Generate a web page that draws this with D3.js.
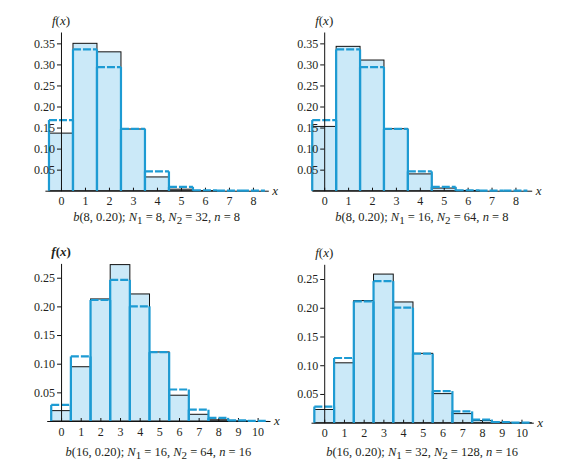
<!DOCTYPE html>
<html lang="en">
<head>
  <meta charset="UTF-8" />
  <title>Hypergeometric vs binomial</title>
  <script src="https://d3js.org/d3.v7.min.js"></script>
  <style>
    body { margin: 0; padding: 0; background: #fff; }
  </style>
</head>
<body>
  <div id="chart"></div>
  <script>
    // hypergeometric and binomial probabilities, x = 0, 1, 2, ...
    const hyper1 = [0.1368, 0.3501, 0.3299, 0.1466, 0.0327, 0.0036, 0.0002, 0.0000, 0.0000];
    const binom1 = [0.1678, 0.3355, 0.2936, 0.1468, 0.0459, 0.0092, 0.0011, 0.0001, 0.0000];
    const hyper2 = [0.1527, 0.3429, 0.3104, 0.1473, 0.0399, 0.0063, 0.0006, 0.0000, 0.0000];
    const binom2 = [0.1678, 0.3355, 0.2936, 0.1468, 0.0459, 0.0092, 0.0011, 0.0001, 0.0000];
    const hyper3 = [0.0181, 0.0947, 0.2130, 0.2729, 0.2217, 0.1205, 0.0450, 0.0117, 0.0021, 0.0003, 0.0000];
    const binom3 = [0.0281, 0.1126, 0.2111, 0.2463, 0.2001, 0.1201, 0.0550, 0.0197, 0.0055, 0.0012, 0.0002];
    const hyper4 = [0.0230, 0.1042, 0.2125, 0.2586, 0.2101, 0.1207, 0.0506, 0.0158, 0.0037, 0.0007, 0.0001];
    const binom4 = [0.0281, 0.1126, 0.2111, 0.2463, 0.2001, 0.1201, 0.0550, 0.0197, 0.0055, 0.0012, 0.0002];

    // caption parameters: b(n, p); N1, N2, n
    const capB  = ["8", "8", "16", "16"];
    const capP  = ["0.20", "0.20", "0.20", "0.20"];
    const capN1 = ["8", "16", "16", "32"];
    const capN2 = ["32", "64", "64", "128"];
    const capn  = ["8", "8", "16", "16"];

    const xTicksSmall = [0, 1, 2, 3, 4, 5, 6, 7, 8];
    const xTicksLarge = [0, 1, 2, 3, 4, 5, 6, 7, 8, 9, 10];
    const yTicksSmall = [0.05, 0.10, 0.15, 0.20, 0.25, 0.30, 0.35];
    const yTicksLarge = [0.05, 0.10, 0.15, 0.20, 0.25];

    const hyperSets = [hyper1, hyper2, hyper3, hyper4];
    const binomSets = [binom1, binom2, binom3, binom4];

    // panel geometry (pixels)
    const layout = [
      { xDom: [-0.67, 8.64], xRange: [44.9, 268.3], yMax: 0.377, base: 190.7, top: 32, xTicks: xTicksSmall, yTicks: yTicksSmall, capY: 221, fxY: 25, fxBold: false },
      { xDom: [-0.51, 8.68], xRange: [312, 531.7], yMax: 0.377, base: 190.7, top: 32, xTicks: xTicksSmall, yTicks: yTicksSmall, capY: 221, fxY: 25, fxBold: false },
      { xDom: [-0.73, 10.63], xRange: [46.7, 270], yMax: 0.275, base: 421, top: 263.4, xTicks: xTicksLarge, yTicks: yTicksLarge, capY: 456, fxY: 256, fxBold: true },
      { xDom: [-0.67, 10.6], xRange: [311, 533.3], yMax: 0.2756, base: 422.7, top: 264.3, xTicks: xTicksLarge, yTicks: yTicksLarge, capY: 456, fxY: 257, fxBold: false }
    ];

    const serif = "'Liberation Serif', 'Times New Roman', Times, serif";
    const ink = "#231f20";
    const blue = "#1d9bd3";
    const lightBlue = "#cbe9f8";

    const svg = d3.select("#chart").append("svg")
      .attr("width", 565)
      .attr("height", 470)
      .attr("font-family", serif);

    svg.append("rect").attr("width", 565).attr("height", 470).attr("fill", "#fff");

    layout.forEach((L, i) => {
      const hyper = hyperSets[i];
      const binom = binomSets[i];
      const g = svg.append("g");

      const x = d3.scaleLinear().domain(L.xDom).range(L.xRange);
      const y = d3.scaleLinear().domain([0, L.yMax]).range([L.base, L.top]);

      // hypergeometric bars: light fill, thin black outline
      g.selectAll("rect.hyper")
        .data(hyper)
        .enter().append("rect")
        .attr("class", "hyper")
        .attr("x", (d, k) => x(k - 0.5))
        .attr("width", (d, k) => x(k + 0.5) - x(k - 0.5))
        .attr("y", d => y(d))
        .attr("height", d => y(0) - y(d))
        .attr("fill", lightBlue)
        .attr("stroke", "#111")
        .attr("stroke-width", 1);

      // x axis
      const xAxis = d3.axisBottom(x)
        .tickValues(L.xTicks)
        .tickFormat(d3.format("d"))
        .tickSizeInner(-3)
        .tickSizeOuter(0)
        .tickPadding(6);
      const gx = g.append("g")
        .attr("transform", `translate(0,${L.base})`)
        .call(xAxis)
        .attr("font-family", serif)
        .attr("font-size", 12);
      gx.select(".domain").attr("stroke", "#111").attr("stroke-width", 1);
      gx.selectAll(".tick line").attr("stroke", "#111");
      gx.selectAll(".tick text").attr("fill", ink);

      // binomial outline: solid sides, dashed tops
      g.selectAll("line.side")
        .data(binom.flatMap((d, k) => [{ e: k - 0.5, v: d }, { e: k + 0.5, v: d }]))
        .enter().append("line")
        .attr("class", "side")
        .attr("x1", d => x(d.e)).attr("x2", d => x(d.e))
        .attr("y1", y(0)).attr("y2", d => y(d.v))
        .attr("stroke", blue)
        .attr("stroke-width", 2.2);

      g.selectAll("line.top")
        .data(binom)
        .enter().append("line")
        .attr("class", "top")
        .attr("x1", (d, k) => x(k - 0.5)).attr("x2", (d, k) => x(k + 0.5))
        .attr("y1", d => y(d)).attr("y2", d => y(d))
        .attr("stroke", blue)
        .attr("stroke-width", 2.2)
        .attr("stroke-dasharray", "8,2");

      // y axis on top of bars
      const yAxis = d3.axisLeft(y)
        .tickValues(L.yTicks)
        .tickFormat(d3.format(".2f"))
        .tickSizeInner(4)
        .tickSizeOuter(0)
        .tickPadding(2);
      const gy = g.append("g")
        .attr("transform", `translate(${x(0)},0)`)
        .call(yAxis)
        .attr("font-family", serif)
        .attr("font-size", 12);
      gy.select(".domain").attr("stroke", "#111").attr("stroke-width", 1);
      gy.selectAll(".tick line").attr("stroke", "#111");
      gy.selectAll(".tick text").attr("fill", ink);

      // axis labels
      g.append("text")
        .attr("x", L.xRange[1] + 4)
        .attr("y", L.base + 4)
        .attr("font-size", 13)
        .attr("font-style", "italic")
        .attr("fill", ink)
        .text("x");

      const fx = g.append("text")
        .attr("x", x(0))
        .attr("y", L.fxY)
        .attr("text-anchor", "middle")
        .attr("font-size", 13)
        .attr("fill", ink)
        .attr("font-weight", L.fxBold ? "bold" : "normal");
      fx.append("tspan").attr("font-style", "italic").text("f");
      fx.append("tspan").text("(");
      fx.append("tspan").attr("font-style", "italic").text("x");
      fx.append("tspan").text(")");

      // caption
      const cap = g.append("text")
        .attr("x", (L.xRange[0] + L.xRange[1]) / 2)
        .attr("y", L.capY)
        .attr("text-anchor", "middle")
        .attr("font-size", 12.5)
        .attr("fill", ink);
      cap.append("tspan").attr("font-style", "italic").text("b");
      cap.append("tspan").text(`(${capB[i]}, ${capP[i]}); `);
      cap.append("tspan").attr("font-style", "italic").text("N");
      cap.append("tspan").attr("dy", 2.5).attr("font-size", 11).text("1");
      cap.append("tspan").attr("dy", -2.5).text(` = ${capN1[i]}, `);
      cap.append("tspan").attr("font-style", "italic").text("N");
      cap.append("tspan").attr("dy", 2.5).attr("font-size", 11).text("2");
      cap.append("tspan").attr("dy", -2.5).text(` = ${capN2[i]}, `);
      cap.append("tspan").attr("font-style", "italic").text("n");
      cap.append("tspan").text(` = ${capn[i]}`);
    });
  </script>
</body>
</html>
